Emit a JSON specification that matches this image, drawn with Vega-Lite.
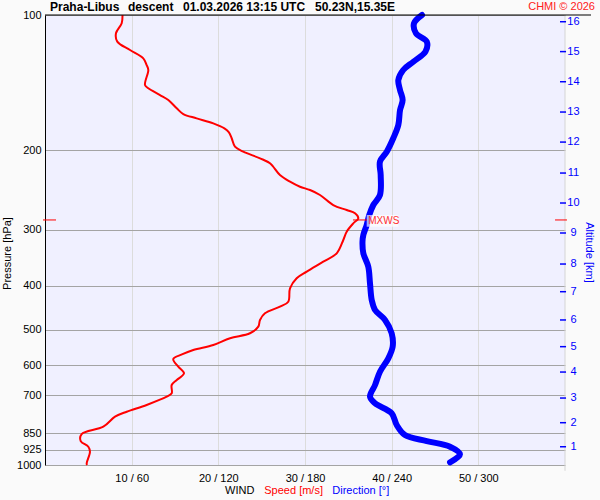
{
  "$schema": "https://vega.github.io/schema/vega-lite/v6.json",
  "width": 520,
  "height": 450,
  "autosize": {"type": "none"},
  "padding": {"left": 45, "top": 15, "right": 35, "bottom": 35},
  "background": "#fafafa",
  "config": {
    "view": {"fill": "#f0f0ff", "stroke": null},
    "font": "Liberation Sans",
    "text": {"font": "Liberation Sans"}
  },
  "datasets": {
    "speed": [
      {"p": 100, "s": 8.94}, {"p": 104.3, "s": 8.85}, {"p": 109.8, "s": 8.19}, {"p": 114.6, "s": 8.34},
      {"p": 119.6, "s": 9.81}, {"p": 124.8, "s": 11.34}, {"p": 129.2, "s": 11.73}, {"p": 132.5, "s": 11.92},
      {"p": 143.1, "s": 11.54}, {"p": 145.5, "s": 11.92}, {"p": 150.6, "s": 13.27}, {"p": 154.5, "s": 14.23},
      {"p": 161.2, "s": 15.2}, {"p": 166, "s": 15.96}, {"p": 169.7, "s": 17.5}, {"p": 174.1, "s": 19.42},
      {"p": 178.6, "s": 20.7}, {"p": 182, "s": 21.2}, {"p": 187.9, "s": 21.54}, {"p": 196.1, "s": 21.92},
      {"p": 201.3, "s": 22.88}, {"p": 208.2, "s": 24.81}, {"p": 213.6, "s": 25.96}, {"p": 226.8, "s": 27.11},
      {"p": 234.7, "s": 28.27}, {"p": 240.8, "s": 29.42}, {"p": 244.9, "s": 30.58}, {"p": 251.2, "s": 31.73},
      {"p": 264.4, "s": 33.26}, {"p": 271.3, "s": 34.81}, {"p": 275.9, "s": 35.77}, {"p": 283.0, "s": 36.15},
      {"p": 290.4, "s": 35.57}, {"p": 303.1, "s": 34.81}, {"p": 316.2, "s": 34.42}, {"p": 338.5, "s": 33.66},
      {"p": 353.3, "s": 32.11}, {"p": 371.9, "s": 30.2}, {"p": 384.7, "s": 29.04}, {"p": 404.9, "s": 28.27},
      {"p": 433.6, "s": 28.07}, {"p": 444.8, "s": 27.11}, {"p": 460.2, "s": 25.38}, {"p": 476.1, "s": 24.81},
      {"p": 492.7, "s": 24.61}, {"p": 509.6, "s": 23.65}, {"p": 522.8, "s": 21.35}, {"p": 541.2, "s": 19.42},
      {"p": 555.2, "s": 17.11}, {"p": 568, "s": 15.8}, {"p": 581.4, "s": 14.8}, {"p": 604.8, "s": 15.38},
      {"p": 625.5, "s": 16.04}, {"p": 647.3, "s": 15.2}, {"p": 664.1, "s": 14.62}, {"p": 693, "s": 14.62},
      {"p": 705.2, "s": 14.04}, {"p": 735.6, "s": 11.73}, {"p": 761.3, "s": 9.43}, {"p": 781, "s": 8.08},
      {"p": 822, "s": 6.73}, {"p": 853.4, "s": 4.23}, {"p": 884.6, "s": 4.12}, {"p": 910.8, "s": 5.0},
      {"p": 934.2, "s": 5.19}, {"p": 991.3, "s": 4.81}, {"p": 1000, "s": 4.85}
    ],
    "direction": [
      {"p": 100, "d": 261}, {"p": 104.3, "d": 255.5}, {"p": 109.8, "d": 256.8}, {"p": 114.6, "d": 264.3},
      {"p": 120.6, "d": 263.4}, {"p": 127, "d": 255}, {"p": 132.5, "d": 248}, {"p": 139.5, "d": 244.6},
      {"p": 146.8, "d": 245.8}, {"p": 154.5, "d": 247.6}, {"p": 162.6, "d": 245.8}, {"p": 175.6, "d": 244.6},
      {"p": 187.9, "d": 241.1}, {"p": 201.3, "d": 236.6}, {"p": 211.8, "d": 231.9}, {"p": 226.8, "d": 232.4},
      {"p": 251.2, "d": 231.9}, {"p": 264.4, "d": 227.3}, {"p": 278.3, "d": 224.5}, {"p": 292.9, "d": 222.7},
      {"p": 308.1, "d": 220.4}, {"p": 319, "d": 219.8}, {"p": 338.5, "d": 220.4}, {"p": 362.5, "d": 223.8},
      {"p": 394.9, "d": 225}, {"p": 429.9, "d": 226.2}, {"p": 452.4, "d": 228.5}, {"p": 476.1, "d": 235.4},
      {"p": 509.6, "d": 240}, {"p": 545.9, "d": 240.7}, {"p": 579.4, "d": 237.7}, {"p": 620.4, "d": 231.9},
      {"p": 664.1, "d": 228.5}, {"p": 705.2, "d": 225}, {"p": 729.3, "d": 228.5}, {"p": 767.5, "d": 240},
      {"p": 814.9, "d": 243.5}, {"p": 857.7, "d": 249.2}, {"p": 884.6, "d": 264.3}, {"p": 910.8, "d": 280.4},
      {"p": 946.7, "d": 287.3}, {"p": 986.3, "d": 280.4}
    ],
    "altitude": [
      {"km": 16, "p": 103.5}, {"km": 15, "p": 120.6}, {"km": 14, "p": 140.7}, {"km": 13, "p": 164.3},
      {"km": 12, "p": 191.6}, {"km": 11, "p": 224.5}, {"km": 10, "p": 261.7}, {"km": 9, "p": 305.1},
      {"km": 8, "p": 357.6}, {"km": 7, "p": 412}, {"km": 6, "p": 476.1}, {"km": 5, "p": 545.8},
      {"km": 4, "p": 621.5}, {"km": 3, "p": 709.9}, {"km": 2, "p": 805.4}, {"km": 1, "p": 910.8}
    ]
  },
  "encoding": {
    "y": {
      "field": "p",
      "type": "quantitative",
      "scale": {"type": "log", "domain": [100, 1000], "reverse": true, "nice": false},
      "axis": {
        "values": [100, 200, 300, 400, 500, 600, 700, 850, 925, 1000],
        "format": "d",
        "grid": true,
        "gridColor": "#a4a4a4",
        "ticks": false,
        "domainColor": "#000000",
        "labelColor": "#000000",
        "labelFontSize": 11,
        "labelPadding": 4,
        "labelFlush": false,
        "labelOverlap": false,
        "title": "Pressure [hPa]",
        "titleFontSize": 11,
        "titleFontWeight": "normal",
        "titleColor": "#000000",
        "titleX": -38,
        "titleY": 238,
        "titleAngle": 270,
        "titleAlign": "center",
        "titleBaseline": "middle"
      }
    }
  },
  "resolve": {"scale": {"x": "independent"}, "axis": {"x": "independent"}},
  "layer": [
    {
      "data": {"values": [{"s": 60, "p": 100, "p2": 1030}]},
      "mark": {"type": "rule", "color": "#d4d4d4", "strokeWidth": 1},
      "encoding": {
        "x": {"field": "s", "type": "quantitative", "scale": {"domain": [0, 60], "nice": false, "zero": false},
          "axis": {
            "values": [10, 20, 30, 40, 50],
            "labelExpr": "datum.value + ' / ' + (datum.value * 6)",
            "grid": true,
            "gridColor": "#dcdcdc",
            "domain": false,
            "ticks": false,
            "labelPadding": 7,
            "labelFontSize": 11,
            "labelColor": "#000000",
            "labelFlush": false,
            "title": null
          }},
        "y2": {"field": "p2"}
      }
    },
    {
      "data": {"name": "speed"},
      "mark": {"type": "line", "color": "#ff0000", "strokeWidth": 2, "strokeJoin": "round", "interpolate": "catmull-rom"},
      "encoding": {
        "x": {"field": "s", "type": "quantitative", "scale": {"domain": [0, 60], "nice": false, "zero": false}, "axis": null},
        "order": {"field": "p", "type": "quantitative"}
      }
    },
    {
      "data": {"name": "direction"},
      "mark": {"type": "line", "color": "#0000ff", "strokeWidth": 6, "strokeCap": "round", "strokeJoin": "round", "interpolate": "catmull-rom"},
      "encoding": {
        "x": {"field": "d", "type": "quantitative", "scale": {"domain": [0, 360], "nice": false, "zero": false}, "axis": null},
        "order": {"field": "p", "type": "quantitative"}
      }
    },
    {
      "data": {"values": [{"s": 37.12, "s2": 40.77, "p": 278.3, "p2": 295.4}]},
      "mark": {"type": "rect", "color": "#ffffff", "opacity": 0.65},
      "encoding": {
        "x": {"field": "s", "type": "quantitative", "scale": {"domain": [0, 60], "nice": false, "zero": false}, "axis": null},
        "x2": {"field": "s2"},
        "y2": {"field": "p2"}
      }
    },
    {
      "data": {"values": [{"label": "MXWS", "s": 37.3, "p": 286.5}]},
      "mark": {"type": "text", "color": "#ff3030", "fontSize": 10, "align": "left", "baseline": "middle"},
      "encoding": {
        "x": {"field": "s", "type": "quantitative", "scale": {"domain": [0, 60], "nice": false, "zero": false}, "axis": null},
        "text": {"field": "label"}
      }
    },
    {
      "data": {"values": [
        {"s": -0.23, "s2": 1.27, "p": 285.4},
        {"s": 35.54, "s2": 37.15, "p": 285.4},
        {"s": 58.85, "s2": 60.23, "p": 285.4}
      ]},
      "mark": {"type": "rule", "color": "#ff0000", "strokeWidth": 1},
      "encoding": {
        "x": {"field": "s", "type": "quantitative", "scale": {"domain": [0, 60], "nice": false, "zero": false}, "axis": null},
        "x2": {"field": "s2"}
      }
    },
    {
      "data": {"values": [{"s": 0, "s2": 63, "p": 100}]},
      "mark": {"type": "rule", "color": "#000000", "strokeWidth": 1},
      "encoding": {
        "x": {"field": "s", "type": "quantitative", "scale": {"domain": [0, 60], "nice": false, "zero": false}, "axis": null},
        "x2": {"field": "s2"}
      }
    },
    {
      "data": {"name": "altitude"},
      "mark": {"type": "rule", "color": "#0000ff", "strokeWidth": 1.5},
      "encoding": {
        "x": {"datum": 59.42, "type": "quantitative", "scale": {"domain": [0, 60], "nice": false, "zero": false}, "axis": null},
        "x2": {"datum": 60.12}
      }
    },
    {
      "data": {"name": "altitude"},
      "mark": {"type": "text", "color": "#0000ff", "fontSize": 11, "align": "center", "baseline": "middle"},
      "encoding": {
        "x": {"datum": 60.98, "type": "quantitative", "scale": {"domain": [0, 60], "nice": false, "zero": false}, "axis": null},
        "text": {"field": "km"}
      }
    },
    {
      "data": {"values": [{"label": "Altitude [km]", "s": 62.77, "p": 337}]},
      "mark": {"type": "text", "color": "#0000ff", "fontSize": 11, "align": "center", "baseline": "middle", "angle": 90},
      "encoding": {
        "x": {"field": "s", "type": "quantitative", "scale": {"domain": [0, 60], "nice": false, "zero": false}, "axis": null},
        "text": {"field": "label"}
      }
    },
    {
      "data": {"values": [
        {"label": "Praha-Libus", "s": 0.58, "p": 96},
        {"label": "descent", "s": 9.58, "p": 96},
        {"label": "01.03.2026 13:15 UTC", "s": 15.92, "p": 96},
        {"label": "50.23N,15.35E", "s": 31.15, "p": 96}
      ]},
      "mark": {"type": "text", "color": "#000000", "fontSize": 12, "fontWeight": "bold", "align": "left", "baseline": "middle"},
      "encoding": {
        "x": {"field": "s", "type": "quantitative", "scale": {"domain": [0, 60], "nice": false, "zero": false}, "axis": null},
        "text": {"field": "label"}
      }
    },
    {
      "data": {"values": [{"label": "CHMI © 2026", "s": 63.46, "p": 96}]},
      "mark": {"type": "text", "color": "#ff2020", "fontSize": 11, "align": "right", "baseline": "middle"},
      "encoding": {
        "x": {"field": "s", "type": "quantitative", "scale": {"domain": [0, 60], "nice": false, "zero": false}, "axis": null},
        "text": {"field": "label"}
      }
    },
    {
      "data": {"values": [{"label": "WIND", "s": 20.77, "p": 1142}]},
      "mark": {"type": "text", "color": "#000000", "fontSize": 11, "align": "left", "baseline": "middle"},
      "encoding": {
        "x": {"field": "s", "type": "quantitative", "scale": {"domain": [0, 60], "nice": false, "zero": false}, "axis": null},
        "text": {"field": "label"}
      }
    },
    {
      "data": {"values": [{"label": "Speed [m/s]", "s": 25.3, "p": 1142}]},
      "mark": {"type": "text", "color": "#ff0000", "fontSize": 11, "align": "left", "baseline": "middle"},
      "encoding": {
        "x": {"field": "s", "type": "quantitative", "scale": {"domain": [0, 60], "nice": false, "zero": false}, "axis": null},
        "text": {"field": "label"}
      }
    },
    {
      "data": {"values": [{"label": "Direction [°]", "s": 33.15, "p": 1142}]},
      "mark": {"type": "text", "color": "#0000ff", "fontSize": 11, "align": "left", "baseline": "middle"},
      "encoding": {
        "x": {"field": "s", "type": "quantitative", "scale": {"domain": [0, 60], "nice": false, "zero": false}, "axis": null},
        "text": {"field": "label"}
      }
    }
  ]
}
